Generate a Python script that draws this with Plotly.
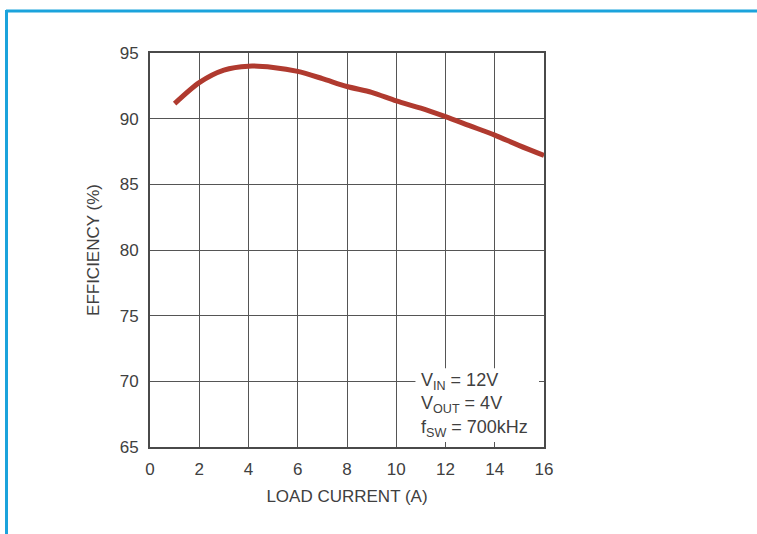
import plotly.graph_objects as go

load_current = [1, 2, 3, 4, 5, 6, 7, 8, 9, 10, 11, 12, 13, 14, 15, 16]
efficiency = [91.15, 92.75, 93.7, 94.0, 93.9, 93.6, 93.05, 92.45, 92.0, 91.35, 90.8, 90.15, 89.45, 88.75, 87.95, 87.2]

x_ticks = [0, 2, 4, 6, 8, 10, 12, 14, 16]
y_ticks = [65, 70, 75, 80, 85, 90, 95]

FONT = "Liberation Sans Narrow, Arial Narrow, Liberation Sans, Arial, sans-serif"
GRID = "#555555"
TXT = "#404040"

fig = go.Figure()
fig.add_trace(go.Scatter(
    x=load_current, y=efficiency, mode="lines",
    line=dict(color="#b03a2f", width=5, shape="spline", smoothing=0.8),
    hoverinfo="skip", showlegend=False,
))

fig.update_layout(
    width=757, height=534,
    margin=dict(l=150, r=213, t=53, b=87),
    paper_bgcolor="white", plot_bgcolor="white",
    font=dict(family=FONT, size=17, color=TXT),
    showlegend=False,
)
fig.update_xaxes(
    range=[0, 16], tickvals=x_ticks, ticktext=[str(v) for v in x_ticks],
    showgrid=True, gridcolor=GRID, gridwidth=1.3,
    showline=True, linecolor="#4a4a4a", linewidth=2, mirror="allticks",
    ticks="inside", ticklen=5, tickcolor=GRID, tickwidth=1.3,
    ticklabelstandoff=6,
    zeroline=False, tickfont=dict(size=17, family=FONT, color=TXT),
    title=dict(text="LOAD CURRENT (A)", font=dict(size=17, family=FONT, color=TXT), standoff=12),
)
fig.update_yaxes(
    range=[65, 95], tickvals=y_ticks, ticktext=[str(v) for v in y_ticks],
    showgrid=True, gridcolor=GRID, gridwidth=1.3,
    showline=True, linecolor="#4a4a4a", linewidth=2, mirror="allticks",
    ticks="inside", ticklen=5, tickcolor=GRID, tickwidth=1.3,
    ticklabelstandoff=6,
    zeroline=False, tickfont=dict(size=17, family=FONT, color=TXT),
    title=dict(text="EFFICIENCY (%)", font=dict(size=17, family=FONT, color=TXT), standoff=16),
)

# white box behind the conditions text, covering the grid
fig.add_shape(type="rect", xref="x", yref="y", x0=10.78, x1=15.8, y0=65.3, y1=71.0,
              fillcolor="white", line=dict(width=0), layer="between")

fig.add_annotation(
    xref="x", yref="y", x=10.92, y=71.05, xanchor="left", yanchor="top",
    text="V<sub>IN</sub> = 12V<br>V<sub>OUT</sub> = 4V<br>f<sub>SW</sub> = 700kHz",
    showarrow=False, align="left",
    font=dict(size=18, family=FONT, color=TXT),
)

# blue frame border (top and left)
fig.add_shape(type="line", xref="paper", yref="paper",
              x0=(6 - 150) / 394, x1=(760 - 150) / 394, y0=(447 - 11) / 394, y1=(447 - 11) / 394,
              line=dict(color="#1ba3dc", width=3))
fig.add_shape(type="line", xref="paper", yref="paper",
              x0=(6.5 - 150) / 394, x1=(6.5 - 150) / 394, y0=(447 - 10) / 394, y1=(447 - 540) / 394,
              line=dict(color="#1ba3dc", width=3))

fig.write_html("out.html", config={"displayModeBar": False},
               post_script="document.body.style.margin='0';")
